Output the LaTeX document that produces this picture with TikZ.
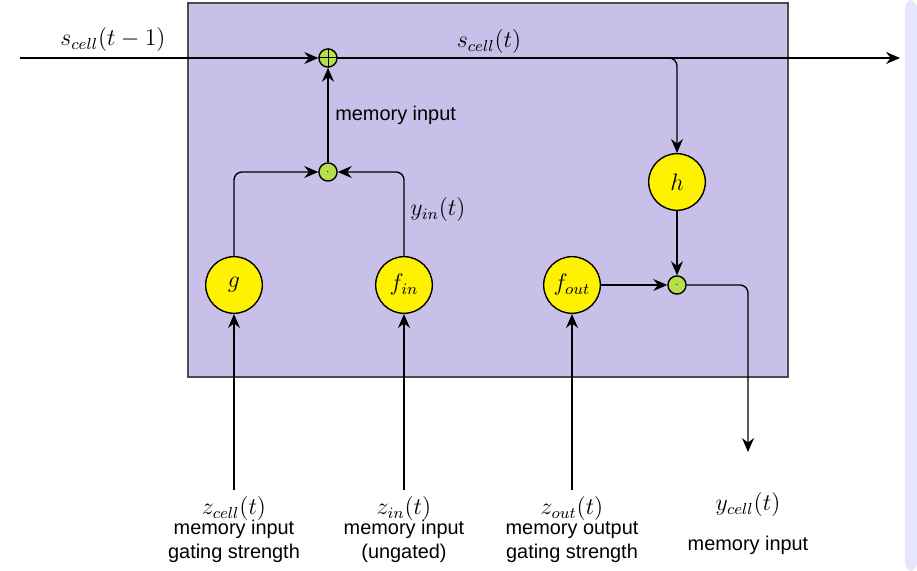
\documentclass[tikz,border=0pt]{standalone}
\usepackage{fontspec}
\setmainfont{Latin Modern Roman}
\newfontfamily\sansf{Liberation Sans}
\usetikzlibrary{arrows.meta,positioning}
\definecolor{cellbg}{HTML}{C8C0E8}
\definecolor{opgreen}{HTML}{B5E04A}
\begin{document}
\begin{tikzpicture}[x=0.01765cm,y=-0.01765cm,>={Stealth[length=7pt,width=6pt]},rounded corners=4pt,line width=0.7pt]
  \tikzset{
    unit/.style={circle, draw, fill=yellow, minimum size=1cm, inner sep=0pt, font=\large},
    op/.style={circle, draw, fill=opgreen, minimum size=0.32cm, inner sep=0pt},
    lbl/.style={font=\sansf, align=center},
  }
  \useasboundingbox (0,0) rectangle (917,571);
  \fill[blue!10] (905,0) rectangle (917,571);
  \draw[fill=cellbg, draw=black!70, sharp corners] (188,3) rectangle (788,377);

  % operators and units
  \node (plus) at (328,58) [op] {};
  \draw[sharp corners,line width=0.5pt] (plus.north) -- (plus.south) (plus.west) -- (plus.east);
  \node (mulin) at (328,172) [op] {\tiny$\cdot$};
  \node (mulout) at (677,285) [op] {\tiny$\cdot$};
  \node (g) at (234,285) [unit] {$g$};
  \node (fin) at (404,285) [unit] {$f_{in}$};
  \node (fout) at (572,285) [unit] {$f_{out}$};
  \node (h) at (677,182) [unit] {$h$};

  \coordinate (src) at (20,58);
  \coordinate (dst) at (900,58);
  \coordinate (yout) at (748,452);
  \node (zc) at (234,530) [lbl] {\large$z_{cell}(t)$\\[-2pt]memory input\\gating strength};
  \node (zi) at (404,530) [lbl] {\large$z_{in}(t)$\\[-2pt]memory input\\(ungated)};
  \node (zo) at (572,530) [lbl] {\large$z_{out}(t)$\\[-2pt]memory output\\gating strength};
  \node (yc) at (748,524) [lbl] {\large$y_{cell}(t)$\\[8pt]memory input};

  % state line
  \draw[->] (src) -- (plus.west);
  \draw[->] (plus.east) -- (dst);
  \draw[->] (plus.east) -| (h.north);
  \node at (113,40) {\large$s_{cell}(t-1)$};
  \node at (489,42) {\large$s_{cell}(t)$};

  % input gating
  \draw[->] (mulin.north) -- node[right, lbl] {memory input} (plus.south);
  \draw[->] (g.north) |- (mulin.west);
  \draw[->] (fin.north) |- (mulin.east);
  \node at (438,210) {\large$y_{in}(t)$};

  % output gating
  \draw[->] (fout.east) -- (mulout.west);
  \draw[->] (h.south) -- (mulout.north);
  \draw[->] (mulout.east) -| (yout);

  \draw[->] (zc.north) -- (g.south);
  \draw[->] (zi.north) -- (fin.south);
  \draw[->] (zo.north) -- (fout.south);
\end{tikzpicture}
\end{document}
